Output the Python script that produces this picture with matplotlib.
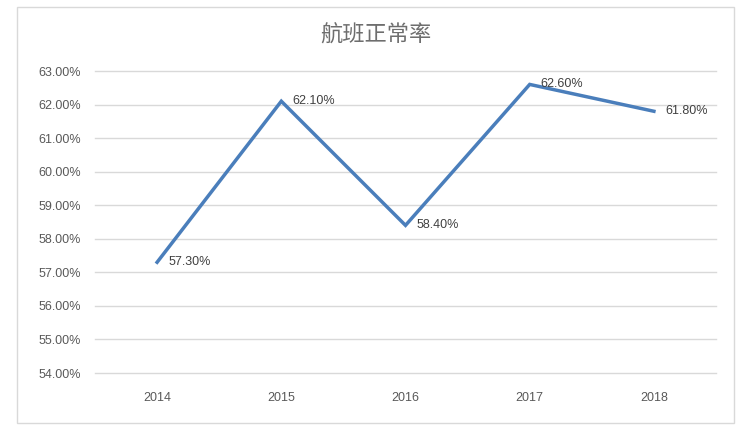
import matplotlib.pyplot as plt
from matplotlib.patches import Rectangle
from matplotlib.ticker import FuncFormatter

years = ["2014", "2015", "2016", "2017", "2018"]
rates = [57.30, 62.10, 58.40, 62.60, 61.80]
y_ticks = [54, 55, 56, 57, 58, 59, 60, 61, 62, 63]
title = "航班正常率"

plt.rcParams['font.family'] = ['Liberation Sans', 'Noto Sans CJK SC', 'DejaVu Sans']

fig = plt.figure(figsize=(7.52, 4.28), dpi=100)
ax = fig.add_axes([95 / 752, 1 - 373 / 428, (716 - 95) / 752, (373 - 71) / 428])

# outer frame of the chart
fig.patches.append(Rectangle((17 / 752, 1 - 423 / 428), (734 - 17) / 752, (423 - 7) / 428,
                             transform=fig.transFigure, fill=False,
                             edgecolor='#D9D9D9', linewidth=1))

x = list(range(len(years)))
ax.plot(x, rates, color='#4A7EBB', linewidth=2.5, solid_joinstyle='miter')
for xi, v in zip(x, rates):
    ax.annotate(f"{v:.2f}%", (xi, v), xytext=(8, 0), textcoords='offset points',
                va='center', ha='left', fontsize=9, color='#404040')

ax.set_xlim(-0.5, len(years) - 0.5)
ax.set_ylim(54, 63)
ax.set_xticks(x)
ax.set_xticklabels(years)
ax.set_yticks(y_ticks)
ax.yaxis.set_major_formatter(FuncFormatter(lambda v, p: f"{v:.2f}%"))
ax.grid(axis='y', color='#D9D9D9', linewidth=1)
for gl in ax.get_ygridlines():
    gl.set_clip_on(False)
ax.set_axisbelow(True)
for s in ax.spines.values():
    s.set_visible(False)
ax.tick_params(length=0, labelsize=9, colors='#595959')
ax.tick_params(axis='x', pad=14)
ax.tick_params(axis='y', pad=10)

fig.text(0.5, 1 - 35 / 428, title, ha='center', va='center', fontsize=16,
         color='#6E6E6E', family=['Noto Sans CJK SC', 'DejaVu Sans'])

fig.savefig("out.png", dpi=100)
